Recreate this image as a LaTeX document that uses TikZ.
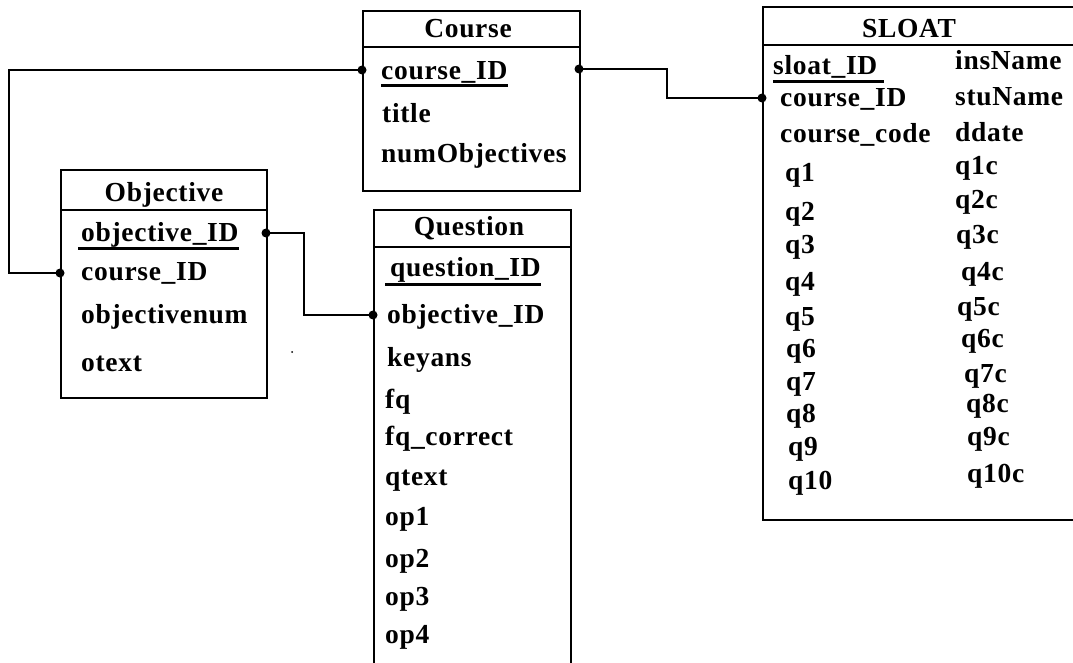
\documentclass[tikz,border=0pt]{standalone}
\usepackage{fontspec}
\setmainfont[LetterSpace=2.5]{Liberation Serif}
\begin{document}
\begin{tikzpicture}[x=1pt,y=-1pt,
  box/.style={draw, line width=1.6pt, rectangle, anchor=north west, inner sep=0pt},
  txt/.style={anchor=base west, inner sep=0pt, font=\fontsize{27.5}{31}\selectfont\bfseries},
  head/.style={anchor=base, inner sep=0pt, font=\fontsize{27.5}{31}\selectfont\bfseries},
  conn/.style={line width=1.5pt},
  sep/.style={line width=1.6pt},
  uline/.style={line width=3pt},
  port/.style={circle, fill, inner sep=0pt, minimum size=9pt}]
\useasboundingbox (0,0) rectangle (1073,663);
\clip (0,0) rectangle (1073,663);

% ---------------- Course ----------------
\node[box, minimum width=217pt, minimum height=180pt] (course) at (362,10) {};
\draw[sep] (course.north west) ++(0,37) -- ++(217,0);
\node[head] (courseH) at (468,38) {Course};
\node[txt] (cid) at (381,80) {course\_ID};
\node[txt] (ctitle) at (382,123) {title};
\node[txt] (cnum) at (381,163) {numObjectives};
\draw[uline] ([yshift=-5.5pt]cid.base west) -- ([yshift=-5.5pt]cid.base east);

% ---------------- Objective ----------------
\node[box, minimum width=206pt, minimum height=228pt] (obj) at (60,169) {};
\draw[sep] (obj.north west) ++(0,41) -- ++(206,0);
\node[head] (objH) at (164,202) {Objective};
\node[txt] (oid) at (81,241) {objective\_ID};
\node[txt] (ocid) at (81,280) {course\_ID};
\node[txt] (onum) at (81,323) {objectivenum};
\node[txt] (otext) at (81,371) {otext};
\draw[uline] ([xshift=-3pt,yshift=-7pt]oid.base west) -- ([yshift=-7pt]oid.base east);

% ---------------- Question ----------------
\node[box, minimum width=197pt, minimum height=500pt] (quest) at (373,209) {};
\draw[sep] (quest.north west) ++(0,38) -- ++(197,0);
\node[head] (questH) at (469,235) {Question};
\node[txt] (qid) at (390,276) {question\_ID};
\node[txt] (qoid) at (387,323) {objective\_ID};
\node[txt] (qkey) at (387,366) {keyans};
\node[txt] (qfq) at (385,408) {fq};
\node[txt] (qfqc) at (385,445) {fq\_correct};
\node[txt] (qtext) at (385,485) {qtext};
\node[txt] (qop1) at (385,525) {op1};
\node[txt] (qop2) at (385,567) {op2};
\node[txt] (qop3) at (385,605) {op3};
\node[txt] (qop4) at (385,643) {op4};
\draw[uline] ([xshift=-5pt,yshift=-8pt]qid.base west) -- ([yshift=-8pt]qid.base east);

% ---------------- SLOAT ----------------
\node[box, minimum width=340pt, minimum height=513pt] (sloat) at (762,6) {};
\draw[sep] (sloat.north west) ++(0,39) -- ++(340,0);
\node[head] (sloatH) at (909,38) {SLOAT};
\node[txt] (sid) at (773,75) {sloat\_ID};
\node[txt] (scid) at (780,107) {course\_ID};
\node[txt] (scode) at (780,143) {course\_code};
\node[txt] (sins) at (955,70) {insName};
\node[txt] (sstu) at (955,106) {stuName};
\node[txt] (sdate) at (955,142) {ddate};
\node[txt] (sq1) at (785,182) {q1};
\node[txt] (sq2) at (785,220) {q2};
\node[txt] (sq3) at (785,253) {q3};
\node[txt] (sq4) at (785,290) {q4};
\node[txt] (sq5) at (785,325) {q5};
\node[txt] (sq6) at (786,357) {q6};
\node[txt] (sq7) at (786,390) {q7};
\node[txt] (sq8) at (786,422) {q8};
\node[txt] (sq9) at (788,455) {q9};
\node[txt] (sq10) at (788,489) {q10};
\node[txt] (sq1c) at (955,175) {q1c};
\node[txt] (sq2c) at (955,208) {q2c};
\node[txt] (sq3c) at (956,243) {q3c};
\node[txt] (sq4c) at (961,280) {q4c};
\node[txt] (sq5c) at (957,315) {q5c};
\node[txt] (sq6c) at (961,347) {q6c};
\node[txt] (sq7c) at (964,382) {q7c};
\node[txt] (sq8c) at (966,412) {q8c};
\node[txt] (sq9c) at (967,445) {q9c};
\node[txt] (sq10c) at (967,482) {q10c};
\draw[uline] ([yshift=-7pt]sid.base west) -- ([xshift=6pt,yshift=-7pt]sid.base east);

% ---------------- ports ----------------
\node[port] (cL) at (362,70) {};
\node[port] (cR) at (579,69) {};
\node[port] (oL) at (60,273) {};
\node[port] (oR) at (266,233) {};
\node[port] (qL) at (373,315) {};
\node[port] (sL) at (762,98) {};

% ---------------- connectors ----------------
\draw[conn] (cL.center) -- ++(-353,0) |- (oL.center);
\draw[conn] (cR.center) -- ++(88,0) |- (sL.center);
\draw[conn] (oR.center) -- ++(38,0) |- (qL.center);

% stray mark
\node[circle, fill, inner sep=0pt, minimum size=2pt] (stray) at (292,352) {};
\end{tikzpicture}
\end{document}
